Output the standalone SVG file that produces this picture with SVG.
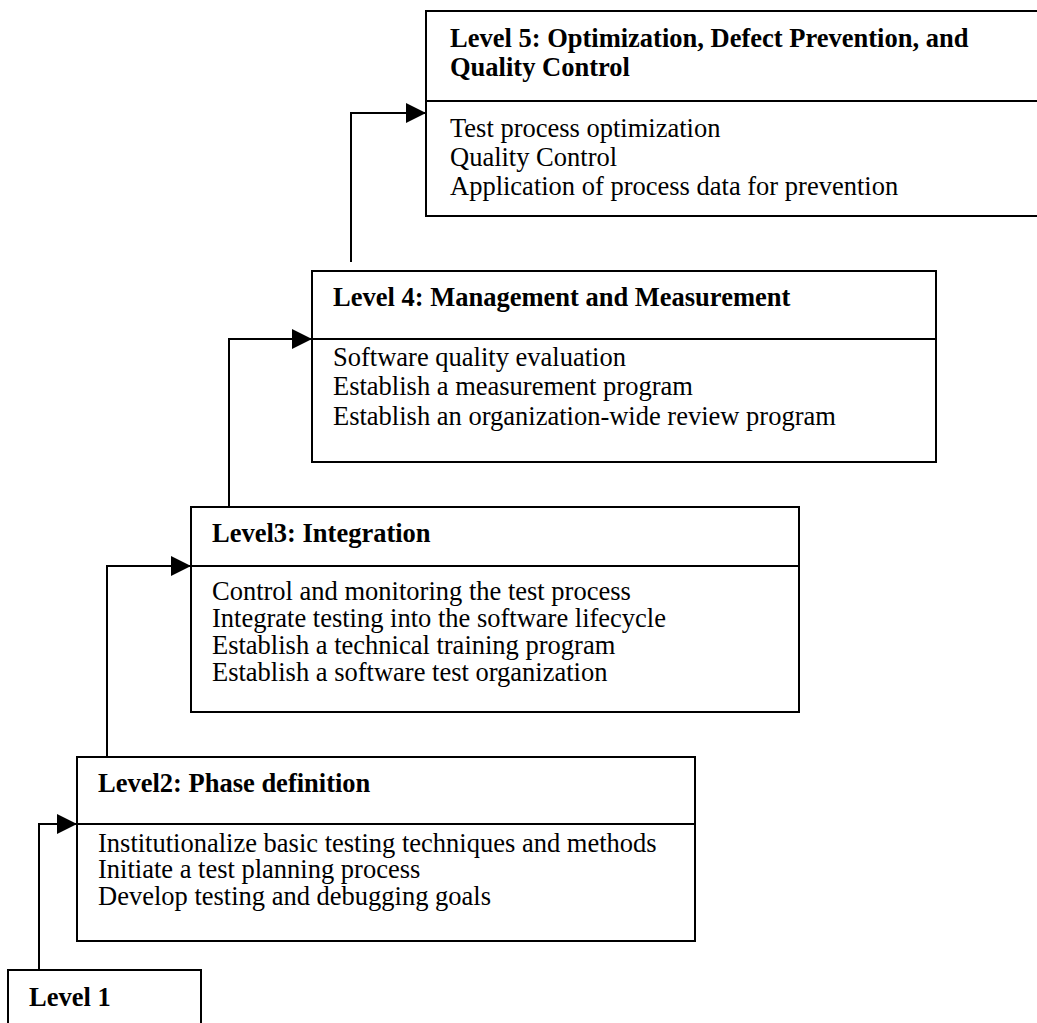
<svg xmlns="http://www.w3.org/2000/svg" width="1037" height="1023" viewBox="0 0 1037 1023">
<style>
.box{fill:#fff;stroke:#000;stroke-width:2}
.div{stroke:#000;stroke-width:2}
.hd{font-family:"Liberation Serif","Times New Roman",serif;font-size:26.5px;font-weight:bold;fill:#000}
.bd{font-family:"Liberation Serif","Times New Roman",serif;font-size:26.5px;fill:#000}
.con{fill:none;stroke:#000;stroke-width:2}
</style>
<defs>
<marker id="ah" markerUnits="userSpaceOnUse" markerWidth="20" markerHeight="20" refX="20" refY="10" orient="auto">
<path d="M0,0 L20,10 L0,20 z" fill="#000"/>
</marker>
</defs>
<rect width="1037" height="1023" fill="#fff"/>
<g id="connectors">
<path class="con" d="M39,970 V824 H77" marker-end="url(#ah)"/>
<path class="con" d="M107,757 V566 H191" marker-end="url(#ah)"/>
<path class="con" d="M229,507 V339 H312" marker-end="url(#ah)"/>
<path class="con" d="M351,262 V113 H426" marker-end="url(#ah)"/>
</g>
<g id="level5">
<rect class="box" x="426" y="11" width="620" height="205"/>
<line class="div" x1="426" y1="101" x2="1046" y2="101"/>
<text class="hd" x="450" y="47">Level 5: Optimization, Defect Prevention, and</text>
<text class="hd" x="450" y="76">Quality Control</text>
<text class="bd" x="450" y="137">Test process optimization</text>
<text class="bd" x="450" y="166">Quality Control</text>
<text class="bd" x="450" y="195">Application of process data for prevention</text>
</g>
<g id="level4">
<rect class="box" x="312" y="271" width="624" height="191"/>
<line class="div" x1="312" y1="339" x2="936" y2="339"/>
<text class="hd" x="333" y="306">Level 4: Management and Measurement</text>
<text class="bd" x="333" y="366">Software quality evaluation</text>
<text class="bd" x="333" y="395">Establish a measurement program</text>
<text class="bd" x="333" y="425">Establish an organization-wide review program</text>
</g>
<g id="level3">
<rect class="box" x="191" y="507" width="608" height="205"/>
<line class="div" x1="191" y1="566" x2="799" y2="566"/>
<text class="hd" x="212" y="542">Level3: Integration</text>
<text class="bd" x="212" y="600">Control and monitoring the test process</text>
<text class="bd" x="212" y="627">Integrate testing into the software lifecycle</text>
<text class="bd" x="212" y="654">Establish a technical training program</text>
<text class="bd" x="212" y="681">Establish a software test organization</text>
</g>
<g id="level2">
<rect class="box" x="77" y="757" width="618" height="184"/>
<line class="div" x1="77" y1="824" x2="695" y2="824"/>
<text class="hd" x="98" y="792">Level2: Phase definition</text>
<text class="bd" x="98" y="852">Institutionalize basic testing techniques and methods</text>
<text class="bd" x="98" y="878">Initiate a test planning process</text>
<text class="bd" x="98" y="905">Develop testing and debugging goals</text>
</g>
<g id="level1">
<rect class="box" x="8" y="970" width="193" height="70"/>
<text class="hd" x="29" y="1006">Level 1</text>
</g>
</svg>
